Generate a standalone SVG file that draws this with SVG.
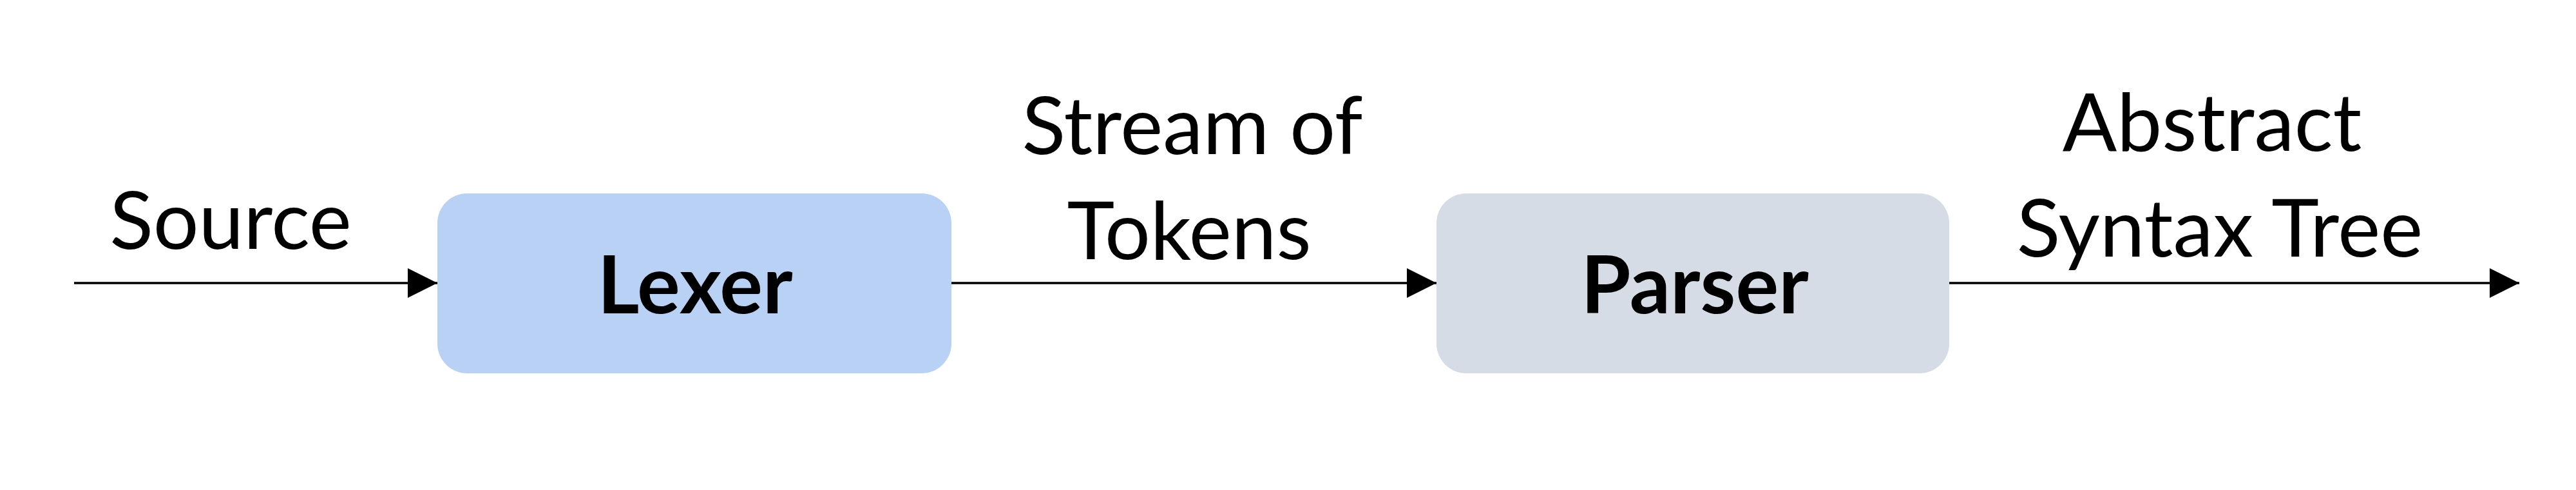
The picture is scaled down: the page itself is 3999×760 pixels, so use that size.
<svg xmlns="http://www.w3.org/2000/svg" width="3999" height="760" viewBox="0 0 3999 760">
  <style>
    .lbl { font-family: Lato, "Liberation Sans", sans-serif; font-size: 125px; fill: #000; text-anchor: middle; }
    .node-text { font-family: Lato, "Liberation Sans", sans-serif; font-size: 125px; font-weight: bold; fill: #000; text-anchor: middle; }
    .conn { stroke: #000; stroke-width: 3.5; fill: none; marker-end: url(#arrow); }
  </style>
  <defs>
    <marker id="arrow" markerUnits="userSpaceOnUse" markerWidth="46" markerHeight="46" refX="46" refY="23" orient="auto">
      <path d="M0,0 L46,23 L0,46 Z" fill="#000"/>
    </marker>
  </defs>
  <rect width="3999" height="760" fill="#fff"/>
  <g id="connectors">
    <line class="conn" x1="115" y1="439" x2="679" y2="439"/>
    <line class="conn" x1="1477" y1="439" x2="2230" y2="439"/>
    <line class="conn" x1="3026" y1="439" x2="3911" y2="439"/>
  </g>
  <g id="lexer">
    <rect x="679" y="300" width="798" height="279" rx="46" ry="46" fill="#B9D1F5"/>
    <text class="node-text" x="1079" y="486">Lexer</text>
  </g>
  <g id="parser">
    <rect x="2230" y="300" width="796" height="279" rx="46" ry="46" fill="#D6DCE6"/>
    <text class="node-text" x="2631" y="486">Parser</text>
  </g>
  <g id="labels">
    <text class="lbl" x="358" y="386">Source</text>
    <text class="lbl" x="1851" y="239">Stream of</text>
    <text class="lbl" x="1846" y="402">Tokens</text>
    <text class="lbl" x="3434" y="234">Abstract</text>
    <text class="lbl" x="3446" y="398">Syntax Tree</text>
  </g>
</svg>
